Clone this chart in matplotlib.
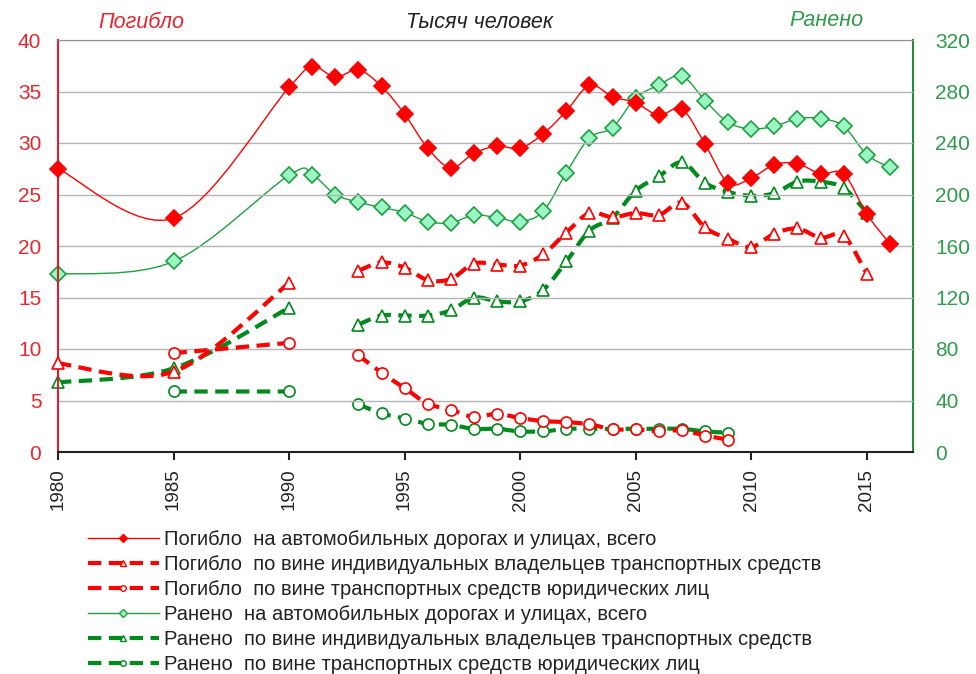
import matplotlib
matplotlib.use("Agg")
import matplotlib.pyplot as plt
import numpy as np
from matplotlib.path import Path
from matplotlib.patches import PathPatch
from matplotlib.lines import Line2D

plt.rcParams['font.family'] = ['Liberation Sans', 'DejaVu Sans']

# Data (thousands of people)
years = [1980, 1985, 1990, 1991, 1992, 1993, 1994, 1995, 1996, 1997, 1998, 1999,
         2000, 2001, 2002, 2003, 2004, 2005, 2006, 2007, 2008, 2009, 2010, 2011,
         2012, 2013, 2014, 2015, 2016]

killed_total = [27.5, 22.7, 35.4, 37.4, 36.4, 37.1, 35.5, 32.8, 29.5, 27.6, 29.0, 29.7,
                29.5, 30.9, 33.1, 35.6, 34.5, 33.9, 32.7, 33.3, 29.9, 26.1, 26.6, 27.9,
                28.0, 27.0, 27.0, 23.1, 20.2]
killed_private = [8.6, 7.8, 16.4, None, None, 17.6, 18.4, 17.9, 16.7, 16.8, 18.3, 18.2,
                  18.1, 19.2, 21.3, 23.2, 22.8, 23.2, 23.0, 24.2, 21.8, 20.7, 19.9, 21.2,
                  21.7, 20.8, 21.0, 17.3, None]
killed_legal = [None, 9.6, 10.6, None, None, 9.4, 7.7, 6.2, 4.7, 4.1, 3.4, 3.7,
                3.3, 3.0, 2.9, 2.7, 2.2, 2.2, 2.0, 2.1, 1.6, 1.2, None, None,
                None, None, None, None, None]

injured_total = [138, 148, 215, 215, 200, 194, 190, 186, 179, 178, 184, 182,
                 179, 187, 217, 244, 252, 275, 285, 292, 273, 256, 251, 253,
                 259, 259, 253, 231, 221]
injured_private = [54, 65, 112, None, None, 99, 106, 106, 106, 110, 120, 117,
                   117, 126, 148, 172, 182, 203, 214, 225, 209, 202, 199, 201,
                   210, 210, 205, 186, None]
injured_legal = [None, 47, 47, None, None, 37, 30, 26, 22, 21, 18, 18,
                 16, 16, 18, 18, 18, 18, 18, 18, 16, 15, None, None,
                 None, None, None, None, None]

labels = [
    "Погибло  на автомобильных дорогах и улицах, всего",
    "Погибло  по вине индивидуальных владельцев транспортных средств",
    "Погибло  по вине транспортных средств юридических лиц",
    "Ранено  на автомобильных дорогах и улицах, всего",
    "Ранено  по вине индивидуальных владельцев транспортных средств",
    "Ранено  по вине транспортных средств юридических лиц",
]

RED = "#ff0000"
GREEN = "#008a1e"
GREEN_THIN = "#1fa040"
MINT = "#9cf5c4"


def segments(xs, ys):
    runs, cur = [], []
    for x, y in zip(xs, ys):
        if y is None:
            if cur:
                runs.append(cur)
            cur = []
        else:
            cur.append((x, y))
    if cur:
        runs.append(cur)
    return runs


def smooth_path(pts):
    # Catmull-Rom style bezier, like Excel "smoothed line"
    p = np.array(pts, dtype=float)
    verts = [p[0]]
    codes = [Path.MOVETO]
    n = len(p)
    for i in range(n - 1):
        p0 = p[i - 1] if i > 0 else p[i]
        p3 = p[i + 2] if i + 2 < n else p[i + 1]
        c1 = p[i] + (p[i + 1] - p0) / 6.0
        c2 = p[i + 1] - (p3 - p[i]) / 6.0
        verts += [c1, c2, p[i + 1]]
        codes += [Path.CURVE4] * 3
    return Path(verts, codes)


def draw_series(ax, ys, color, lw, ls, marker, ms, mfc, mec, z):
    for run in segments(years, ys):
        patch = PathPatch(smooth_path(run), fill=False, edgecolor=color, lw=lw,
                          linestyle=ls, zorder=z, capstyle='butt')
        ax.add_patch(patch)
        xs = [r[0] for r in run]
        vs = [r[1] for r in run]
        ax.plot(xs, vs, linestyle='none', marker=marker, ms=ms, mfc=mfc,
                mec=mec, mew=1.2, zorder=z + 0.5, clip_on=False)


fig = plt.figure(figsize=(9.76, 6.74), dpi=100)
ax = fig.add_axes([58 / 976, 1 - 452 / 674, (913 - 58) / 976, (452 - 40) / 674])
ax2 = ax.twinx()

DASH = (0, (3.2, 1.8))

draw_series(ax2, injured_total, GREEN_THIN, 1.0, '-', 'D', 8, MINT, GREEN_THIN, 3)
draw_series(ax2, injured_private, GREEN, 3.0, DASH, '^', 8, 'white', GREEN, 4)
draw_series(ax2, injured_legal, GREEN, 3.0, DASH, 'o', 8, 'white', GREEN, 4)
draw_series(ax, killed_total, RED, 1.0, '-', 'D', 8, RED, RED, 5)
draw_series(ax, killed_private, RED, 3.0, DASH, '^', 8, 'white', RED, 6)
draw_series(ax, killed_legal, RED, 3.0, DASH, 'o', 8, 'white', RED, 6)

ax.set_zorder(ax2.get_zorder() + 1)
ax.patch.set_visible(False)

ax.set_xlim(1980, 2017)
ax.set_ylim(0, 40)
ax2.set_ylim(0, 320)
ax.set_yticks(np.arange(0, 41, 5))
ax2.set_yticks(np.arange(0, 321, 40))
ax.set_xticks(np.arange(1980, 2016, 5))
ax.set_xticklabels([str(y) for y in range(1980, 2016, 5)], rotation=90,
                   fontsize=13.5, color='#222222')

ax2.yaxis.grid(False)
for yv in np.arange(5, 41, 5):
    ax.axhline(yv, color='#b4b4b4', lw=1.0, zorder=0)

ax.tick_params(axis='y', length=0, pad=12, labelsize=15, labelcolor='#e8262e')
ax2.tick_params(axis='y', length=0, pad=16, labelsize=15, labelcolor='#2e9a4a')
ax.tick_params(axis='x', length=6, width=1.5, direction='out', pad=6, color='#222222')

ax.spines['left'].set_color('#d82030')
ax.spines['left'].set_linewidth(1.5)
ax.spines['bottom'].set_color('#222222')
ax.spines['bottom'].set_linewidth(1.5)
ax.spines['top'].set_color('#909090')
ax.spines['right'].set_visible(False)
ax2.spines['left'].set_visible(False)
ax2.spines['bottom'].set_visible(False)
ax2.spines['top'].set_visible(False)
ax2.spines['right'].set_color('#2a8a3a')
ax2.spines['right'].set_linewidth(1.5)

fig.text(141 / 976, 1 - 22 / 674, "Погибло", color='#e8262e', fontsize=15.5,
         style='italic', ha='center', va='center')
fig.text(480 / 976, 1 - 22 / 674, "Тысяч человек", color='#222222', fontsize=15.5,
         style='italic', ha='center', va='center')
fig.text(826 / 976, 1 - 20 / 674, "Ранено", color='#2e9a4a', fontsize=15.5,
         style='italic', ha='center', va='center')

handles = [
    Line2D([], [], color=RED, lw=1.0, marker='D', ms=4, mfc=RED, mec=RED),
    Line2D([], [], color=RED, lw=3.0, linestyle=DASH, marker='^', ms=4, mfc='white', mec=RED),
    Line2D([], [], color=RED, lw=3.0, linestyle=DASH, marker='o', ms=4, mfc='white', mec=RED),
    Line2D([], [], color=GREEN_THIN, lw=1.0, marker='D', ms=4, mfc=MINT, mec=GREEN_THIN),
    Line2D([], [], color=GREEN, lw=3.0, linestyle=DASH, marker='^', ms=4, mfc='white', mec=GREEN),
    Line2D([], [], color=GREEN, lw=3.0, linestyle=DASH, marker='o', ms=4, mfc='white', mec=GREEN),
]
fig.legend(handles, labels, loc='upper left', bbox_to_anchor=(78 / 976, 1 - 520 / 674),
           frameon=False, fontsize=14.5, handlelength=3.5, handletextpad=0.25,
           labelspacing=0.3, borderpad=0, labelcolor='#222222')

fig.savefig("out.png", dpi=100)
